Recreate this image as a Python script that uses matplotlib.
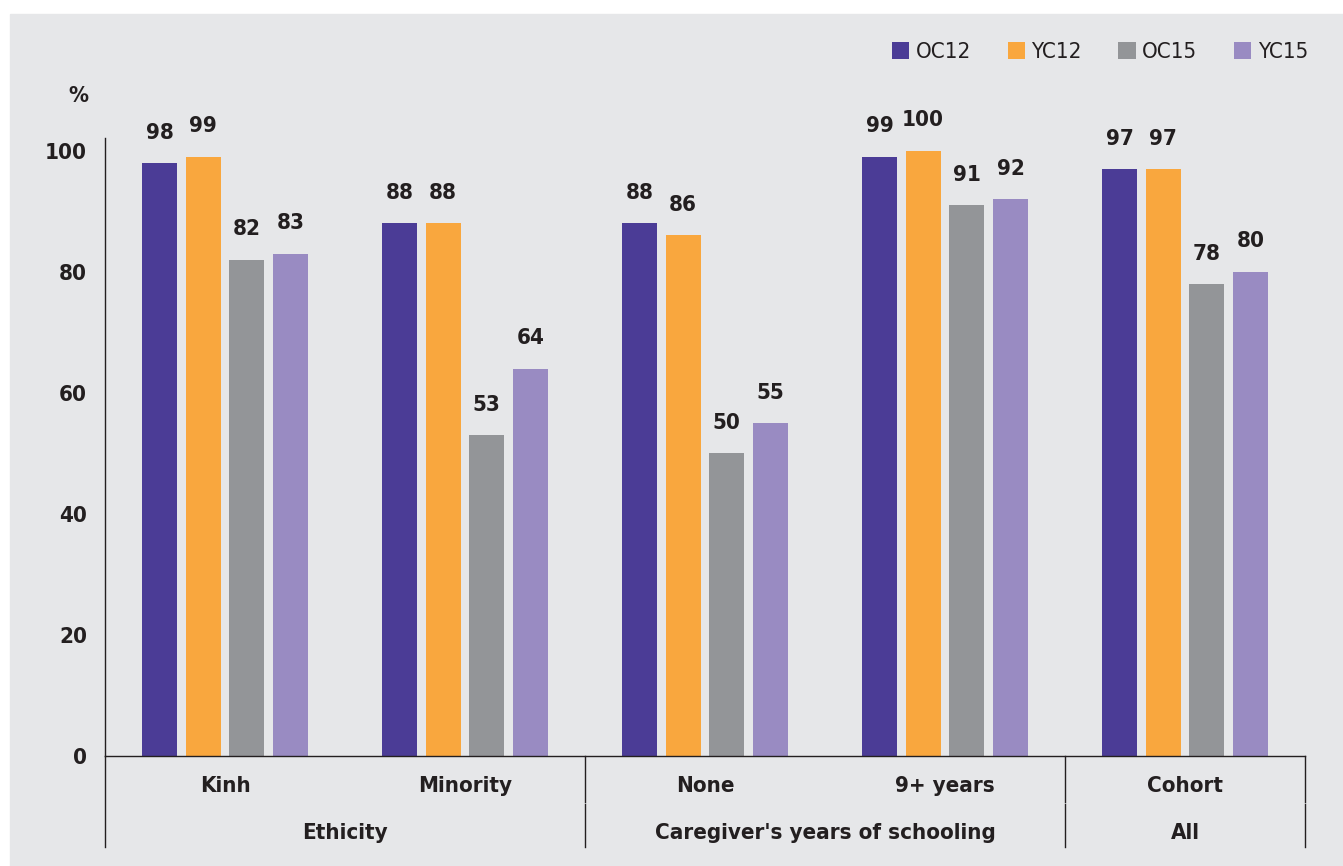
import matplotlib.pyplot as plt
from matplotlib.patches import Rectangle

groups = ['Kinh', 'Minority', 'None', '9+ years', 'Cohort']
categories = ['Ethicity', "Caregiver's years of schooling", 'All']
category_spans = [(0, 1), (2, 3), (4, 4)]
series = ['OC12', 'YC12', 'OC15', 'YC15']
oc12 = [98, 88, 88, 99, 97]
yc12 = [99, 88, 86, 100, 97]
oc15 = [82, 53, 50, 91, 78]
yc15 = [83, 64, 55, 92, 80]
yticks = [0, 20, 40, 60, 80, 100]

colors = ['#4b3c96', '#f9a73e', '#939598', '#998bc2']
bg = '#e6e7e9'
ink = '#231f20'

plt.rcParams['font.family'] = ['Liberation Sans Narrow', 'DejaVu Sans']
plt.rcParams['font.stretch'] = 'condensed'
plt.rcParams['font.size'] = 16
plt.rcParams['text.color'] = ink

fig = plt.figure(figsize=(13.43, 8.66), dpi=100)
fig.patches.append(Rectangle((10 / 1343, 0), 1 - 10 / 1343, 1 - 14 / 866,
                             transform=fig.transFigure, color=bg, zorder=-10))
ax = fig.add_axes([105 / 1343, 110 / 866, 1200 / 1343, 618 / 866])
ax.set_facecolor('none')

step = 0.182
width = 0.146
x = range(len(groups))
for i, (name, vals) in enumerate(zip(series, [oc12, yc12, oc15, yc15])):
    pos = [g + (i - 1.5) * step for g in x]
    bars = ax.bar(pos, vals, width, color=colors[i], label=name, zorder=2)
    for b, v in zip(bars, vals):
        ax.annotate(f'{v:g}', (b.get_x() + b.get_width() / 2, v),
                    xytext=(0, 17.5), textcoords='offset points',
                    ha='center', va='baseline', fontweight='bold', color=ink)

ax.set_xlim(-0.5, len(groups) - 0.5)
ax.set_ylim(0, 102.1)
ax.set_yticks(yticks)
ax.set_yticklabels([str(t) for t in yticks], fontweight='bold')
ax.tick_params(axis='y', length=0, pad=13, colors=ink)
ax.set_xticks([])
for s in ['top', 'right']:
    ax.spines[s].set_visible(False)
for s in ['left', 'bottom']:
    ax.spines[s].set_color(ink)
    ax.spines[s].set_linewidth(1.0)

ax.text(-0.0142, 1.068, '%', transform=ax.transAxes, ha='right', va='center',
        fontweight='bold')

# two-row category axis below the bars
tr = ax.get_xaxis_transform()
for g, name in zip(x, groups):
    ax.text(g, -0.0485, name, transform=tr, ha='center', va='center',
            fontweight='bold')
ax.plot([-0.5, -0.5], [0, -0.147], transform=tr, color=ink, lw=1.0, clip_on=False)
for (a, b), name in zip(category_spans, categories):
    ax.text((a + b) / 2, -0.1246, name, transform=tr, ha='center', va='center',
            fontweight='bold')
    edge = b + 0.5
    ax.plot([edge, edge], [0, -0.0744], transform=tr, color=ink, lw=1.0, clip_on=False)
    ax.plot([edge, edge], [-0.0777, -0.147], transform=tr, color=ink, lw=1.0, clip_on=False)

ax.legend(loc='upper right', bbox_to_anchor=(1308 / 1343, 1 - 42 / 866),
          bbox_transform=fig.transFigure, ncol=4, frameon=False,
          handlelength=0.77, handleheight=0.77, handletextpad=0.3,
          columnspacing=1.65, borderaxespad=0, borderpad=0)

fig.savefig('out.png', dpi=100, facecolor='white')
